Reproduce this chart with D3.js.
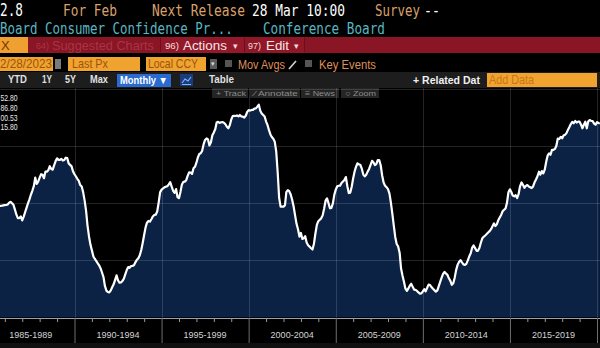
<!DOCTYPE html>
<html><head><meta charset="utf-8">
<script src="https://cdn.jsdelivr.net/npm/d3@7"></script>
<style>html,body{margin:0;padding:0;background:#000;overflow:hidden}svg{display:block}</style>
</head><body><svg id="c" width="600" height="348"></svg>
<script>
// ---------- DATA ----------
const startMonth = "1985-09";
const psiValues = [
97.5,
97.7, 97.9, 98.2, 98.4, 98.5, 99.0, 100.5, 101.3, 100.0, 98.7,
94.5, 90.0, 87.0, 87.0, 88.5, 85.0, 88.3, 92.0, 96.0, 100.0,
103.5, 107.5, 111.0, 115.0, 122.5, 117.0, 119.0, 122.5, 125.5, 125.0,
122.0, 127.8, 127.8, 129.0, 132.5, 130.0, 129.5, 133.5, 137.0, 139.4,
138.1, 138.0, 139.0, 137.5, 138.0, 140.0, 139.7, 135.0, 133.7, 132.4,
128.0, 125.5, 123.5, 121.5, 119.6, 116.0, 114.7, 109.8, 102.6, 93.3,
80.5, 70.9, 63.8, 58.7, 53.3, 51.4, 49.5, 47.5, 45.6, 43.1,
39.3, 35.2, 27.5, 23.4, 22.2, 21.8, 23.6, 26.3, 28.9, 32.8,
36.8, 32.5, 30.3, 30.6, 31.8, 33.9, 37.6, 41.5, 44.1, 43.3,
45.0, 45.1, 45.6, 48.2, 50.5, 51.8, 54.4, 59.0, 65.2, 72.4,
79.1, 83.0, 84.5,
84.0, 86.0, 88.5, 89.8, 90.0, 92.8, 100.6, 109.6, 112.0, 113.0,
114.0, 114.6, 115.0, 116.6, 118.5, 114.6, 111.0, 109.2, 112.5, 105.5,
104.5, 110.0, 116.2, 118.8, 119.0, 120.3, 124.0, 127.2, 127.0, 125.8,
130.7, 132.0, 135.6, 140.4, 143.2, 143.9, 146.0, 151.9, 155.6, 156.9,
156.0, 150.8, 153.5, 159.7, 162.2, 165.2, 170.8, 171.5, 170.5, 171.1,
171.2, 170.7, 169.4, 167.1, 165.8, 168.4, 173.5, 176.5, 176.8, 176.6,
177.1, 176.2, 177.5, 176.2, 176.0, 175.1, 176.8, 180.1, 181.7, 181.3,
181.9, 181.9, 183.0, 183.3, 184.8, 186.5, 181.2, 178.8, 177.5, 176.2,
171.7, 168.5, 164.4, 160.4, 158.2, 156.7, 154.1, 145.5, 127.0, 105.0,
97.1, 97.1, 97.1, 98.4, 109.8, 111.5, 110.6, 107.7, 103.1, 97.2,
89.4, 82.0, 77.2,
70.8, 74.0, 68.7, 69.3, 71.1, 65.7, 63.2, 62.0, 60.6, 59.5,
64.5, 73.5, 81.0, 84.3, 85.6, 86.8, 89.4, 95.2, 102.3, 104.3,
100.3, 95.6, 96.0, 99.9, 107.4, 112.0, 115.0, 115.4, 115.5, 117.8,
119.1, 120.4, 123.0, 115.0, 109.0, 109.4, 114.5, 122.0, 128.1, 132.0,
135.1, 134.2, 133.6, 130.4, 125.2, 123.6, 125.1, 127.8, 130.1, 133.7,
137.3, 136.1, 133.6, 134.4, 138.0, 138.0, 133.4, 124.4, 118.2, 115.4,
114.2, 112.5, 108.5, 100.8, 90.9, 80.6, 70.5, 64.3, 62.2, 56.7,
42.8, 36.4, 31.2, 25.1, 23.2, 25.1, 27.7, 29.4, 26.9, 24.3,
24.0, 23.1, 21.8, 20.8, 20.9, 22.8, 24.6, 22.8, 25.8, 28.7,
28.3, 26.5, 25.0, 23.8, 22.5, 23.6, 27.4, 31.3, 35.0, 38.1,
39.8, 38.5, 37.2,
34.2, 32.0, 28.5, 29.8, 35.0, 41.6, 46.2, 48.8, 50.1, 48.1,
46.4, 45.9, 46.9, 49.9, 53.5, 56.1, 61.2, 63.0, 60.7, 58.3,
58.3, 60.8, 65.4, 69.3, 70.6, 71.8, 73.1, 74.4, 75.6, 77.3,
79.8, 82.4, 80.0, 81.6, 85.1, 87.5, 89.8, 93.0, 94.3, 95.5,
100.6, 109.7, 112.3, 109.7, 106.8, 106.1, 107.1, 104.6, 108.0, 114.9,
118.3, 116.2, 113.6, 115.3, 116.0, 114.7, 114.1, 113.4, 114.8, 118.4,
120.9, 123.7, 127.7, 125.1, 128.3, 126.3, 129.7, 136.7, 141.8, 143.7,
142.6, 146.8, 146.8, 147.7, 150.5, 156.8, 156.4, 158.3, 157.0, 159.7,
160.0, 161.6, 164.4, 166.9, 169.5, 171.4, 170.2, 172.2, 170.8, 171.6,
171.6, 169.0, 165.8, 168.9, 171.6, 165.8, 171.7, 173.0, 172.3, 172.2,
169.9, 168.9, 171.2, 170.4,
170.0
];
const yearTicks = d3.range(1985, 2021);
const periodStarts = [1985, 1990, 1995, 2000, 2005, 2010, 2015];
const periodLabels = ["1985-1989", "1990-1994", "1995-1999", "2000-2004", "2005-2009", "2010-2014", "2015-2019"];
const gridValues = [50, 100, 150, 200];
const statLabels = ["52.80", "86.80", "00.53", "15.80"];

// ---------- SETUP ----------
const svg = d3.select("#c");
const W = 600, H = 348;
svg.append("rect").attr("width", W).attr("height", H).attr("fill", "#000");

const MONO = "'DejaVu Sans Mono', 'Liberation Mono', monospace";
const SANS = "'Liberation Sans', Arial, sans-serif";
// text fitted to a measured width by horizontal scaling
function T(x, y, s, o = {}) {
  const t = svg.append("text").attr("y", y).text(s)
    .attr("font-family", o.ff || SANS).attr("font-size", o.fs || 12)
    .attr("fill", o.c || "#fff");
  if (o.fw) t.attr("font-weight", o.fw);
  if (o.len) {
    const w = t.node().getComputedTextLength();
    const k = o.len / w;
    t.attr("x", x / k).attr("transform", `scale(${k},1)`);
  } else t.attr("x", x);
  return t;
}
function R(x, y, w, h, c) {
  return svg.append("rect").attr("x", x).attr("y", y).attr("width", w).attr("height", h).attr("fill", c);
}

// ---------- HEADER ROWS ----------
const TAN = "#d9a06a";
T(0, 16, "2.8", {ff: MONO, fs: 18, len: 23});
T(63, 16, "For Feb", {ff: MONO, fs: 15, len: 54, c: TAN});
T(152, 16, "Next Release", {ff: MONO, fs: 15, len: 93, c: TAN});
T(252, 16, "28 Mar 10:00", {ff: MONO, fs: 15, len: 93});
T(375, 16, "Survey", {ff: MONO, fs: 15, len: 45, c: TAN});
T(424, 16, "--", {ff: MONO, fs: 15, len: 16});

const TEAL = "#58b7c2";
T(0, 34, "Board Consumer Confidence Pr...", {ff: MONO, fs: 15, len: 233, c: TEAL});
T(263, 34, "Conference Board", {ff: MONO, fs: 15, len: 122, c: TEAL});

// red action bar
R(0, 37, W, 16, "#8a1525");
R(160, 37, 84, 16, "#93192a");
R(244, 37, 60, 16, "#8f1727");
[160.5, 244.5, 304.5].forEach(xx =>
  svg.append("line").attr("x1", xx).attr("x2", xx).attr("y1", 38).attr("y2", 52).attr("stroke", "#6c0f1b"));
R(0, 37, 28, 16, "#f0a030");
T(1, 50, "X", {fs: 13, c: "#7a3500"});
T(36, 49, "64)", {fs: 9, c: "#a93444", len: 13});
T(52, 50, "Suggested Charts", {fs: 13, c: "#a93444", len: 102});
T(165, 49, "96)", {fs: 9, c: "#f3dada", len: 14});
T(183, 50, "Actions", {fs: 13, c: "#f6e6e6", len: 44});
T(233, 49, "▾", {fs: 9, c: "#f3dada"});
T(248, 49, "97)", {fs: 9, c: "#f3dada", len: 13});
T(266, 50, "Edit", {fs: 13, c: "#f6e6e6", len: 23});
T(294, 49, "▾", {fs: 9, c: "#f3dada"});

// input row
const ORG = "#f0a32e", ORGT = "#9a5410";
R(0, 57, 53, 14, ORG);
T(0, 68.5, "2/28/2023", {fs: 13, c: ORGT, len: 52});
R(55, 59, 6, 10, "#7a7a7a");
R(68, 57, 72, 14, ORG);
T(72, 68.5, "Last Px", {fs: 13, c: ORGT, len: 36});
R(146, 57, 60, 14, ORG);
T(148, 68.5, "Local CCY", {fs: 13, c: ORGT, len: 50});
R(210, 59, 7, 10, "#5a5a5a");
T(211, 66, "▾", {fs: 7, c: "#ddd"});
R(225, 60, 7, 7, "#555");
T(238, 69, "Mov Avgs", {fs: 13, c: "#df8f58", len: 47});
svg.append("line").attr("x1", 289).attr("y1", 69).attr("x2", 296).attr("y2", 61).attr("stroke", "#cfcfcf").attr("stroke-width", 1.6);
R(305, 60, 7, 7, "#555");
T(319, 69, "Key Events", {fs: 13, c: "#df8f58", len: 57});

// toolbar row
R(0, 72, W, 16, "#1d1d1d");
const TB = "#e0e0e0";
T(8, 83.5, "YTD", {fs: 10.5, c: TB, len: 19, fw: "bold"});
T(42, 83.5, "1Y", {fs: 10.5, c: TB, len: 10, fw: "bold"});
T(65, 83.5, "5Y", {fs: 10.5, c: TB, len: 11, fw: "bold"});
T(90, 83.5, "Max", {fs: 10.5, c: TB, len: 18, fw: "bold"});
R(117, 74, 54, 13, "#2b6bd0");
T(120, 84, "Monthly ▼", {fs: 10.5, c: "#fff", len: 48, fw: "bold"});
R(180, 74, 13, 12, "#1b3c7a");
svg.append("polyline").attr("points", "182,83 185,79 188,81 191,77").attr("fill", "none").attr("stroke", "#7fb0ff").attr("stroke-width", 1.2);
svg.append("line").attr("x1", 182).attr("x2", 191).attr("y1", 84.5).attr("y2", 84.5).attr("stroke", "#7fb0ff");
T(209, 83.5, "Table", {fs: 10.5, c: TB, len: 25, fw: "bold"});
T(413, 84, "+ Related Dat", {fs: 10.5, c: "#f0f0f0", len: 67, fw: "bold"});
R(487, 73, 110, 14, ORG);
T(489, 84, "Add Data", {fs: 12, c: "#c87618", len: 45});

// small tool buttons
const BT = "#8c8c8c";
R(212, 88, 36, 10, "#242424");
T(216, 96, "+ Track", {fs: 8, c: BT, len: 30});
R(250, 88, 50, 10, "#242424");
T(254, 96, "⁄ Annotate", {fs: 8, c: BT, len: 44});
R(301, 88, 38, 10, "#242424");
T(305, 96, "≡ News", {fs: 8, c: BT, len: 30});
R(341, 88, 38, 10, "#242424");
T(345, 96, "○ Zoom", {fs: 8, c: BT, len: 31});

// ---------- PLOT ----------
const parse = d3.timeParse("%Y-%m");
const t0 = parse(startMonth);
const data = psiValues.map((v, i) => ({date: d3.timeMonth.offset(t0, i), value: v}));

const x = d3.scaleTime().domain([new Date(1990, 0, 1), new Date(2020, 0, 1)]).range([74.5, 597]);
const y = d3.scaleLinear().domain([0, 200]).range([317.3, 89.3]);

const plot = svg.append("g");
plot.append("path").datum(data)
  .attr("d", d3.area().x(d => x(d.date)).y0(y(0)).y1(d => y(d.value)))
  .attr("fill", "#0b2245");

// grid
const grid = plot.append("g").attr("stroke", "#ffffff").attr("stroke-opacity", 0.14).attr("stroke-width", 1);
grid.selectAll("line.h").data(gridValues).join("line")
  .attr("x1", 0).attr("x2", W).attr("y1", d => Math.round(y(d)) + 0.5).attr("y2", d => Math.round(y(d)) + 0.5);
grid.selectAll("line.v").data(periodStarts.concat([2020]).filter(d => d >= 1990)).join("line")
  .attr("x1", d => Math.round(x(new Date(d, 0, 1))) + 0.5).attr("x2", d => Math.round(x(new Date(d, 0, 1))) + 0.5)
  .attr("y1", 88).attr("y2", 318);

plot.append("path").datum(data)
  .attr("d", d3.line().x(d => x(d.date)).y(d => y(d.value)))
  .attr("fill", "none").attr("stroke", "#ffffff").attr("stroke-width", 2.2).attr("stroke-linejoin", "round");

// stat labels (top-left)
statLabels.forEach((s, i) => T(0.5, 101 + i * 9.8, s, {fs: 8.5, c: "#e8e8e8", len: 17}));

// ---------- X AXIS ----------
const axisG = svg.append("g").attr("transform", "translate(0,318)");
axisG.append("line").attr("x1", 0).attr("x2", W).attr("y1", 0.5).attr("y2", 0.5).attr("stroke", "#a0a0a0");
const axis = d3.axisBottom(x).tickValues(yearTicks.map(yr => new Date(yr, 0, 1)))
  .tickSize(4).tickSizeOuter(0).tickFormat("");
axisG.call(axis);
axisG.select(".domain").remove();
axisG.selectAll(".tick line")
  .attr("y2", d => d.getFullYear() % 5 === 0 ? 25 : 4)
  .attr("stroke", d => d.getFullYear() % 5 === 0 ? "#6e6e6e" : "#9a9a9a");
axisG.selectAll("text.plab").data(periodStarts).join("text")
  .attr("class", "plab")
  .attr("x", d => x(new Date(d + 2, 6, 1)))
  .attr("y", 20).attr("text-anchor", "middle")
  .attr("font-family", SANS).attr("font-size", 9).attr("fill", "#d4d4d4")
  .text((d, i) => periodLabels[i]);

R(0, 343, W, 5, "#101010");
</script>
</body></html>
